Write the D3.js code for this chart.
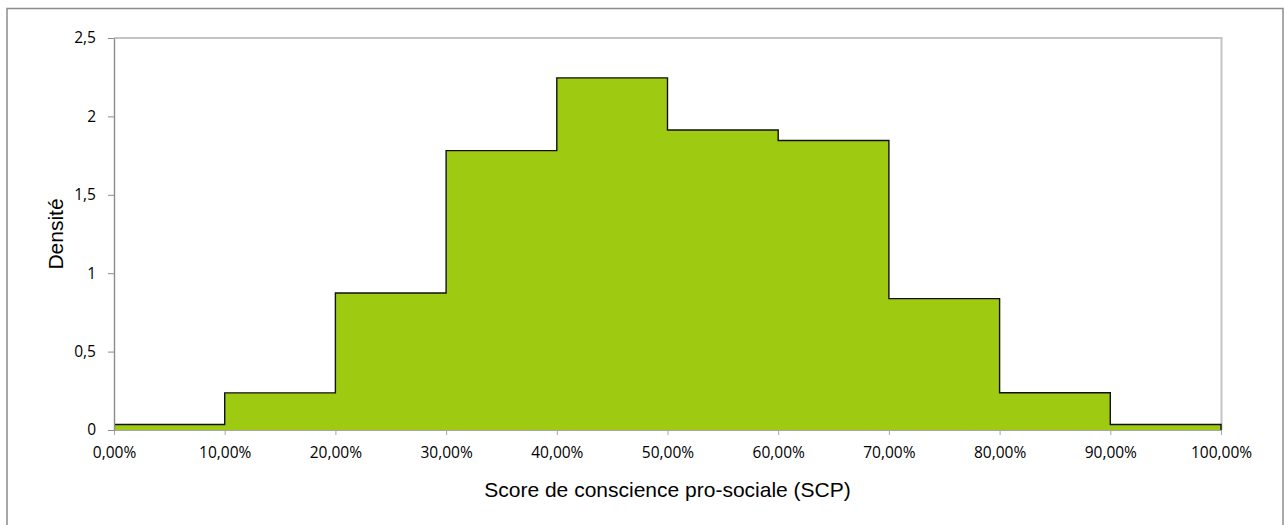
<!DOCTYPE html>
<html>
<head>
<meta charset="utf-8">
<script src="https://cdn.jsdelivr.net/npm/d3@7"></script>
<style>
  body { margin: 0; background: #fff; }
  svg { display: block; }
</style>
</head>
<body>
<div id="chart"></div>
<script>
// Histogram bins (lower bound, in %) and densities
const binStarts = [0, 10, 20, 30, 40, 50, 60, 70, 80, 90];
const densities = [0.035, 0.237, 0.874, 1.782, 2.246, 1.913, 1.846, 0.838, 0.238, 0.035];
const xTicks = [0, 10, 20, 30, 40, 50, 60, 70, 80, 90, 100];
const yTicks = [0, 0.5, 1, 1.5, 2, 2.5];

const width = 1285, height = 525;
const margin = { top: 38, right: 64, bottom: 95, left: 114 };
const binWidth = 10;

const svg = d3.select("#chart").append("svg")
    .attr("width", width)
    .attr("height", height);

// outer chart border
svg.append("rect")
    .attr("x", 7).attr("y", 8.5)
    .attr("width", 1276).attr("height", 530)
    .attr("fill", "none")
    .attr("stroke", "#8c8c8c")
    .attr("stroke-width", 1.5);

const x = d3.scaleLinear()
    .domain([0, 100])
    .range([margin.left, width - margin.right]);

const y = d3.scaleLinear()
    .domain([0, 2.5])
    .range([height - margin.bottom, margin.top]);

// plot area border (top and right)
svg.append("path")
    .attr("d", `M${x(0)},${y(2.5)}H${x(100) + 0.5}V${y(0)}`)
    .attr("fill", "none")
    .attr("stroke", "#c4c4c4")
    .attr("stroke-width", 2);

// step outline points
const pts = [];
binStarts.forEach((b, i) => {
    pts.push([b, densities[i]]);
    pts.push([b + binWidth, densities[i]]);
});

const area = d3.area()
    .x(d => x(d[0]))
    .y0(y(0))
    .y1(d => y(d[1]));

svg.append("path")
    .datum(pts)
    .attr("d", area)
    .attr("fill", "#9fca12");

// x axis
const xAxis = svg.append("g")
    .attr("transform", `translate(0,${y(0)})`)
    .call(d3.axisBottom(x)
        .tickValues(xTicks)
        .tickSize(5)
        .tickSizeOuter(0)
        .tickFormat(d => d3.format(".2f")(d).replace(".", ",") + "%"));

xAxis.select(".domain").attr("stroke", "#a6a6a6").attr("stroke-width", 1.2);
xAxis.selectAll(".tick line").attr("stroke", "#a6a6a6");
xAxis.selectAll("text")
    .attr("y", 17)
    .attr("fill", "#000")
    .style("font-family", "'Open Sans', sans-serif")
    .style("font-size", "15.5px");

const line = d3.line()
    .x(d => x(d[0]))
    .y(d => y(d[1]));

const outline = pts.concat([[100, 0]]);
svg.append("path")
    .datum(outline)
    .attr("d", line)
    .attr("fill", "none")
    .attr("stroke", "#111")
    .attr("stroke-width", 1.4);

// y axis
const yAxis = svg.append("g")
    .attr("transform", `translate(${x(0)},0)`)
    .call(d3.axisLeft(y)
        .tickValues(yTicks)
        .tickSize(6)
        .tickSizeOuter(0)
        .tickFormat(d => String(d).replace(".", ",")));

yAxis.select(".domain").attr("stroke", "#8c8c8c").attr("stroke-width", 1.4);
yAxis.selectAll(".tick line").attr("stroke", "#8c8c8c");
yAxis.selectAll("text")
    .attr("x", -18)
    .attr("fill", "#000")
    .style("font-family", "'Open Sans', sans-serif")
    .style("font-size", "15.5px");

// axis titles
svg.append("text")
    .attr("x", (x(0) + x(100)) / 2)
    .attr("y", 497)
    .attr("text-anchor", "middle")
    .style("font-family", "'Liberation Sans', Arial, sans-serif")
    .style("font-size", "21px")
    .text("Score de conscience pro-sociale (SCP)");

svg.append("text")
    .attr("transform", `translate(63,${(y(0) + y(2.5)) / 2}) rotate(-90)`)
    .attr("text-anchor", "middle")
    .style("font-family", "'Liberation Sans', Arial, sans-serif")
    .style("font-size", "21px")
    .text("Densité");
</script>
</body>
</html>
